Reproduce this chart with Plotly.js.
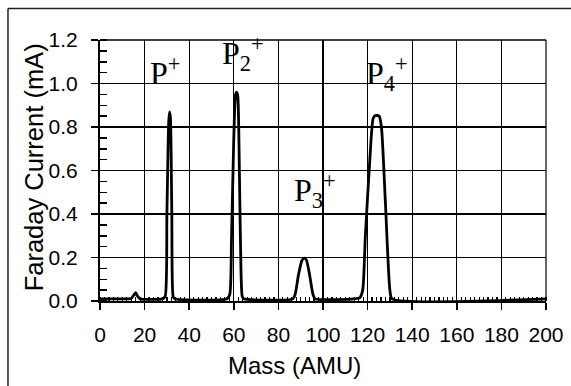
<!DOCTYPE html>
<html>
<head>
<meta charset="utf-8">
<script src="https://cdn.plot.ly/plotly-3.0.1.min.js"></script>
<style>html,body{margin:0;padding:0;background:#fff;}#chart{width:571px;height:386px;}</style>
</head>
<body>
<div id="chart"></div>
<script>
// Mass spectrum: Faraday current vs mass
var massAMU = [0, 10, 14, 15, 16, 17, 18, 28, 29.2, 30, 30.8, 31.2, 31.6, 32.2, 32.8, 33.5,
  57, 58.2, 59, 60, 60.8, 61.3, 61.8, 62.5, 63.2, 63.8, 64.5,
  86.5, 87.5, 89, 90.5, 91.5, 92.5, 94, 95.5, 96.5,
  114, 116.5, 117.8, 119, 121, 122.5, 123.5, 125.2, 126.2, 128, 130, 131, 200];
var currentMA = [0.01, 0.01, 0.012, 0.025, 0.038, 0.02, 0.01, 0.01, 0.02, 0.4, 0.82, 0.87, 0.84, 0.4, 0.02, 0.01,
  0.01, 0.03, 0.3, 0.75, 0.95, 0.96, 0.94, 0.6, 0.15, 0.02, 0.01,
  0.01, 0.03, 0.12, 0.185, 0.197, 0.19, 0.12, 0.03, 0.01,
  0.01, 0.015, 0.05, 0.3, 0.65, 0.84, 0.853, 0.85, 0.8, 0.45, 0.05, 0.01, 0.01];
var xTickVals = [0, 20, 40, 60, 80, 100, 120, 140, 160, 180, 200];
var yTickVals = [0.0, 0.2, 0.4, 0.6, 0.8, 1.0, 1.2];
var yTickText = ['0.0', '0.2', '0.4', '0.6', '0.8', '1.0', '1.2'];
var peakLabels = ['P<sup>+</sup>', 'P<sub>2</sub><sup>+</sup>', 'P<sub>3</sub><sup>+</sup>', 'P<sub>4</sub><sup>+</sup>'];
var peakLabelMass = [21.6, 53.6, 86, 118.6];
var peakLabelCurrent = [0.955, 1.026, 0.396, 0.935];
var xTitle = 'Mass (AMU)';
var yTitle = 'Faraday Current (mA)';

var trace = {
  x: massAMU, y: currentMA, type: 'scatter', mode: 'lines',
  line: {color: '#000', width: 2.8, shape: 'spline', smoothing: 0.6},
  hoverinfo: 'none', showlegend: false
};

var annotations = peakLabels.map(function (t, i) {
  return {x: peakLabelMass[i], y: peakLabelCurrent[i], xref: 'x', yref: 'y', text: t,
    showarrow: false, xanchor: 'left', yanchor: 'bottom',
    font: {family: 'Liberation Serif, Times New Roman, serif', size: 32, color: '#000'}};
});
annotations.push({x: 0.437, y: -0.246, xref: 'paper', yref: 'paper', text: xTitle, showarrow: false,
  xanchor: 'center', yanchor: 'middle', font: {family: 'Liberation Sans, Arial, sans-serif', size: 24, color: '#000'}});
annotations.push({x: -0.148, y: 0.512, xref: 'paper', yref: 'paper', text: yTitle, showarrow: false, textangle: -90,
  xanchor: 'center', yanchor: 'middle', font: {family: 'Liberation Sans, Arial, sans-serif', size: 25.5, color: '#000'}});

var layout = {
  width: 571, height: 386,
  margin: {l: 100, r: 25, t: 40, b: 85, pad: 0},
  paper_bgcolor: '#fff', plot_bgcolor: '#fff',
  font: {family: 'Liberation Sans, Arial, sans-serif', size: 21, color: '#000'},
  xaxis: {
    range: [0, 200], tickvals: xTickVals, ticks: 'outside', ticklen: 7, tickwidth: 1.5, tickcolor: '#000',
    showline: true, linewidth: 2, linecolor: '#000', showgrid: true, gridcolor: '#000', gridwidth: 1.1,
    zeroline: false, ticklabelstandoff: 7,
    minor: {dtick: 2, ticks: 'inside', ticklen: 4, tickwidth: 1.2, tickcolor: '#000', showgrid: false},
    tickfont: {size: 21}
  },
  yaxis: {
    range: [0, 1.2], tickvals: yTickVals, ticktext: yTickText, ticks: 'outside', ticklen: 7, tickwidth: 1.5, tickcolor: '#000',
    showline: true, linewidth: 2, linecolor: '#000', showgrid: true, gridcolor: '#000', gridwidth: 1.1,
    zeroline: false, ticklabelstandoff: 9,
    minor: {dtick: 0.05, ticks: 'inside', ticklen: 7, tickwidth: 1.5, tickcolor: '#000', showgrid: false},
    tickfont: {size: 21}
  },
  annotations: annotations,
  shapes: [
    {type: 'line', xref: 'paper', yref: 'paper', x0: 0, x1: 1, y0: 1, y1: 1, line: {color: '#000', width: 1.5}},
    {type: 'line', xref: 'paper', yref: 'paper', x0: 1, x1: 1, y0: 0, y1: 1, line: {color: '#000', width: 1.2}},
    {type: 'line', xref: 'paper', yref: 'paper', x0: -0.2063, x1: 1.06, y0: 1.1205, y1: 1.1205, line: {color: '#222', width: 1.5}},
    {type: 'line', xref: 'paper', yref: 'paper', x0: -0.2063, x1: -0.2063, y0: 1.1205, y1: -0.33, line: {color: '#222', width: 1.5}}
  ]
};

Plotly.newPlot('chart', [trace], layout, {displayModeBar: false, staticPlot: true});
</script>
</body>
</html>
